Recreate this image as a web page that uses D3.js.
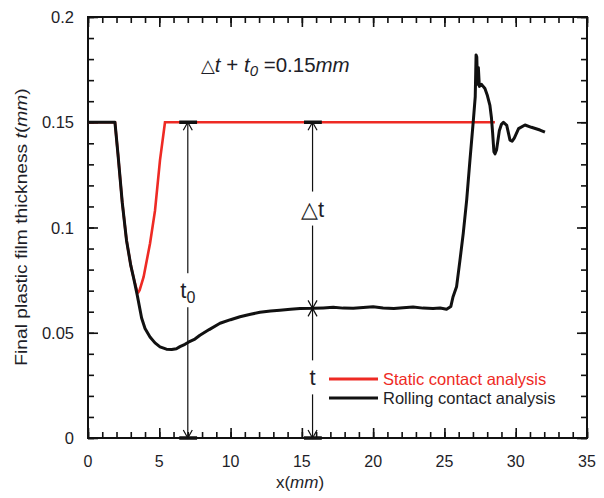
<!DOCTYPE html>
<meta charset="utf-8">
<style>
  html, body { margin: 0; padding: 0; background: #fff; overflow: hidden; }
  svg { display: block; }
  text { font-family: "Liberation Sans", Arial, sans-serif; fill: #1e1e28; }
</style>

<script src="https://d3js.org/d3.v7.min.js"></script>

<div id="film"></div>

<script>

// static contact analysis (red)
var staticX = [0, 1.89, 2.1, 2.4, 2.7, 3.0, 3.2, 3.45, 3.53, 3.62, 3.9, 4.35, 4.7, 5.05, 5.4, 28.54]
var staticT = [0.15, 0.15, 0.135, 0.112, 0.094, 0.082, 0.076, 0.0695, 0.0692, 0.0702, 0.0765, 0.0924, 0.108, 0.132, 0.15, 0.15]

// rolling contact analysis (black)
var rollX = [0, 1.89, 2.1, 2.4, 2.7, 3.0, 3.2, 3.45, 3.76, 4.0, 4.35, 4.7, 5.05, 5.5, 5.87, 6.2, 6.45, 6.8, 7.04,
  7.5, 7.85, 8.5, 9.26, 10.0, 10.66, 11.4, 12.06, 12.8, 13.46, 14.2, 14.87, 15.8, 16.5, 17.2, 17.9, 18.6, 19.3,
  20.0, 20.7, 21.45, 22.1, 22.8, 23.5, 24.2, 24.7, 25.15, 25.45, 25.6, 25.85, 26.09, 26.32, 26.56, 26.79, 27.03,
  27.16, 27.22, 27.27, 27.32, 27.38, 27.45, 27.6, 27.84, 28.0, 28.19, 28.3, 28.38, 28.47, 28.55, 28.66, 28.85,
  29.0, 29.14, 29.37, 29.6, 29.75, 29.9, 30.2, 30.65, 31.1, 31.7, 32.05]
var rollT = [0.15, 0.15, 0.135, 0.112, 0.094, 0.082, 0.076, 0.068, 0.057, 0.052, 0.048, 0.0452, 0.0433, 0.0422, 0.042, 0.0424, 0.0434, 0.0445, 0.0455,
  0.047, 0.0488, 0.0515, 0.0545, 0.0562, 0.0576, 0.0588, 0.0597, 0.0603, 0.0607, 0.0612, 0.0615, 0.0616, 0.0618, 0.0621, 0.0617, 0.0616, 0.062,
  0.0623, 0.0618, 0.0615, 0.0619, 0.0622, 0.0617, 0.0615, 0.0618, 0.0612, 0.0625, 0.067, 0.0718, 0.0845, 0.0972, 0.113, 0.132, 0.151,
  0.162, 0.182, 0.181, 0.168, 0.176, 0.167, 0.168, 0.166, 0.163, 0.158, 0.152, 0.145, 0.136, 0.135, 0.137, 0.146,
  0.149, 0.150, 0.1485, 0.1415, 0.141, 0.1425, 0.147, 0.1487, 0.1476, 0.1463, 0.1453]

// dimension arrows: t0, delta t, t
var dimX = [7.0, 15.75, 15.75]
var dimTop = [0.15, 0.15, 0.0616]
var dimBottom = [0, 0.0616, 0]
var dimLabelY = [0.0702, 0.109, 0.0288]
var dimLabels = ["t0", "\u25B3t", "t"]

var xTicks = [0, 5, 10, 15, 20, 25, 30, 35]
var yTicks = [0, 0.05, 0.1, 0.15, 0.2]
var yTickLabels = ["0", "0.05", "0.1", "0.15", "0.2"]

var legendNames = ["Static contact analysis", "Rolling contact analysis"]
var legendColors = ["#ee2a24", "#111"]

var w = 604, h = 498
var margin = {top: 17, right: 17, bottom: 60, left: 88},
    innerWidth = w - margin.left - margin.right,
    innerHeight = h - margin.top - margin.bottom

var svg = d3.select("#film")
  .append("svg")
    .attr("width", w)
    .attr("height", h)

var g = svg.append("g")
  .attr("transform", `translate(${margin.left},${margin.top})`)

var xScale = d3.scaleLinear().domain([0, 35]).range([0, innerWidth])
var yScale = d3.scaleLinear().domain([0, 0.2]).range([innerHeight, 0])

//// axes, ticks pointing inward on all four sides
var minorX = d3.range(0, 36, 1)
var minorY = d3.range(0, 0.2001, 0.01)

function axisStyle(sel) {
  sel.select(".domain").remove()
  sel.selectAll("text").remove()
  sel.selectAll("line").attr("stroke", "#111").attr("stroke-width", 1.6)
}

g.append("g").attr("transform", `translate(0,${innerHeight})`)
  .call(d3.axisBottom(xScale).tickValues(minorX).tickSize(-6))
  .call(axisStyle)
g.append("g").attr("transform", `translate(0,${innerHeight})`)
  .call(d3.axisBottom(xScale).tickValues(xTicks).tickSize(-10))
  .call(axisStyle)
g.append("g")
  .call(d3.axisTop(xScale).tickValues(minorX).tickSize(-6))
  .call(axisStyle)
g.append("g")
  .call(d3.axisTop(xScale).tickValues(xTicks).tickSize(-10))
  .call(axisStyle)

g.append("g")
  .call(d3.axisLeft(yScale).tickValues(minorY).tickSize(-6))
  .call(axisStyle)
g.append("g")
  .call(d3.axisLeft(yScale).tickValues(yTicks).tickSize(-10))
  .call(axisStyle)
g.append("g").attr("transform", `translate(${innerWidth},0)`)
  .call(d3.axisRight(yScale).tickValues(minorY).tickSize(-6))
  .call(axisStyle)
g.append("g").attr("transform", `translate(${innerWidth},0)`)
  .call(d3.axisRight(yScale).tickValues(yTicks).tickSize(-10))
  .call(axisStyle)

g.append("rect")
  .attr("width", innerWidth)
  .attr("height", innerHeight)
  .attr("fill", "none")
  .attr("stroke", "#111")
  .attr("stroke-width", 2)

//// tick labels, placed on the svg itself
svg.selectAll(".xlab")
  .data(xTicks)
  .enter()
  .append("text")
    .attr("class", "xlab")
    .attr("text-anchor", "middle")
    .attr("x", d => margin.left + xScale(d))
    .attr("y", margin.top + innerHeight + 29)
    .attr("font-size", "16px")
    .text(d => d)

svg.selectAll(".ylab")
  .data(yTicks)
  .enter()
  .append("text")
    .attr("class", "ylab")
    .attr("text-anchor", "end")
    .attr("x", margin.left - 14)
    .attr("y", d => margin.top + yScale(d) + 6)
    .attr("font-size", "16.5px")
    .text((d, i) => yTickLabels[i])

//// axis titles
var xlabel = svg.append("text")
  .attr("text-anchor", "middle")
  .attr("x", 300)
  .attr("y", 488)
  .attr("font-size", "17px")
xlabel.append("tspan").text("x(")
xlabel.append("tspan").attr("font-style", "italic").text("mm")
xlabel.append("tspan").text(")")

var ylabel = svg.append("text")
  .attr("text-anchor", "middle")
  .attr("transform", "translate(27,227) rotate(-90) scale(1.13,1)")
  .attr("font-size", "17px")
ylabel.append("tspan").text("Final plastic film thickness ")
ylabel.append("tspan").attr("font-style", "italic").text("t")
ylabel.append("tspan").text("(")
ylabel.append("tspan").attr("font-style", "italic").text("mm")
ylabel.append("tspan").text(")")

//// curves
var line = d3.line()
  .x(d => xScale(d[0]))
  .y(d => yScale(d[1]))

g.append("path")
  .datum(d3.zip(staticX, staticT))
  .attr("d", line)
  .attr("fill", "none")
  .attr("stroke", legendColors[0])
  .attr("stroke-width", 2.6)

g.append("path")
  .datum(d3.zip(rollX, rollT))
  .attr("d", line)
  .attr("fill", "none")
  .attr("stroke", legendColors[1])
  .attr("stroke-width", 3)
  .attr("stroke-linejoin", "round")

//// dimension arrows
var dims = dimX.map((x, i) => ({x: x, top: dimTop[i], bottom: dimBottom[i], ly: dimLabelY[i], label: dimLabels[i]}))

var dim = g.selectAll(".dim")
  .data(dims)
  .enter()
  .append("g")

dim.append("line")
  .attr("x1", d => xScale(d.x)).attr("x2", d => xScale(d.x))
  .attr("y1", d => yScale(d.top)).attr("y2", d => yScale(d.bottom))
  .attr("stroke", "#111")
  .attr("stroke-width", 1.2)

function head(x, y, dir) {
  return `M${x - 4.5},${y + dir * 8}L${x},${y}L${x + 4.5},${y + dir * 8}`
}
dim.append("path")
  .attr("d", d => head(xScale(d.x), yScale(d.top), 1) + head(xScale(d.x), yScale(d.bottom), -1))
  .attr("fill", "none")
  .attr("stroke", "#111")
  .attr("stroke-width", 1.2)

// thick caps where an arrow meets 0 or 0.15
var caps = []
dims.forEach(d => {
  if (d.top == 0.15) caps.push([d.x, d.top])
  if (d.bottom == 0) caps.push([d.x, d.bottom])
})
g.selectAll(".cap")
  .data(caps)
  .enter()
  .append("line")
    .attr("x1", d => xScale(d[0] - 0.6)).attr("x2", d => xScale(d[0] + 0.65))
    .attr("y1", d => yScale(d[1])).attr("y2", d => yScale(d[1]))
    .attr("stroke", "#111")
    .attr("stroke-width", 3.5)

dim.append("rect")
  .attr("x", d => xScale(d.x) - 16)
  .attr("y", d => yScale(d.ly) - 17)
  .attr("width", 32)
  .attr("height", 34)
  .attr("fill", "#fff")

var dimText = dim.append("text")
  .attr("text-anchor", "middle")
  .attr("x", d => xScale(d.x))
  .attr("y", d => yScale(d.ly) + 8)
  .attr("font-size", "22px")
dimText.append("tspan").text(d => d.label.charAt(0) == "t" ? "t" : d.label)
dimText.filter(d => d.label == "t0")
  .append("tspan").attr("dy", 5).attr("font-size", "16px").text("0")

//// top formula
var formula = svg.append("text")
  .attr("x", 201)
  .attr("y", 72)
  .attr("font-size", "20.5px")
formula.append("tspan").attr("font-family", "DejaVu Sans").attr("font-size", "18px").text("\u25B3")
formula.append("tspan").attr("font-style", "italic").text("t")
formula.append("tspan").text(" + ")
formula.append("tspan").attr("font-style", "italic").text("t")
formula.append("tspan").attr("font-style", "italic").attr("font-size", "15px").attr("dy", 4).text("0")
formula.append("tspan").attr("dy", -4).text(" =0.15")
formula.append("tspan").attr("font-style", "italic").text("mm")

//// legend
var legend = svg.selectAll(".legend")
  .data(legendNames)
  .enter()
  .append("g")
    .attr("transform", (d, i) => `translate(329,${379 + i * 19})`)

legend.append("line")
  .attr("x1", 0).attr("x2", 49)
  .attr("stroke", (d, i) => legendColors[i])
  .attr("stroke-width", 3)

legend.append("text")
  .attr("x", 54)
  .attr("y", 6)
  .attr("font-size", "16.5px")
  .style("fill", (d, i) => i == 0 ? legendColors[0] : "#1e1e28")
  .text(d => d)

</script>
